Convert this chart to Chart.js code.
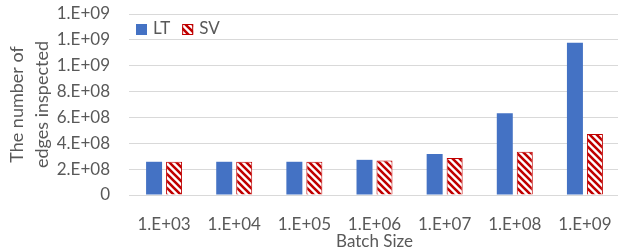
<!DOCTYPE html>
<html>
<head>
<meta charset="utf-8">
<script src="https://cdn.jsdelivr.net/npm/chart.js@4"></script>
<style>
    html, body { margin: 0; padding: 0; background: #fff; overflow: hidden; }
    #chart { display: block; }
</style>
</head>
<body>
<canvas id="chart" width="620" height="248"></canvas>
<script>
const batchSizes = ["1.E+03", "1.E+04", "1.E+05", "1.E+06", "1.E+07", "1.E+08", "1.E+09"];
const ltEdges = [2.57e8, 2.57e8, 2.57e8, 2.72e8, 3.17e8, 6.33e8, 1.178e9];
const svEdges = [2.57e8, 2.57e8, 2.57e8, 2.67e8, 2.86e8, 3.35e8, 4.72e8];
const yTickLabels = ["0", "2.E+08", "4.E+08", "6.E+08", "8.E+08", "1.E+09", "1.E+09", "1.E+09"];

const textColor = "#595959";
const fontFamily = "Lato, 'Open Sans', sans-serif";

// red "\" hatch like the Excel pattern fill
function hatchPattern() {
    const s = 7;
    const tile = document.createElement("canvas");
    tile.width = s;
    tile.height = s;
    const c = tile.getContext("2d");
    c.fillStyle = "#ffffff";
    c.fillRect(0, 0, s, s);
    c.strokeStyle = "#C00000";
    c.lineWidth = 2.6;
    c.beginPath();
    c.moveTo(-2, -2); c.lineTo(s + 2, s + 2);
    c.moveTo(s - 2, -2); c.lineTo(s + 2, 2);
    c.moveTo(-2, s - 2); c.lineTo(2, s + 2);
    c.stroke();
    return c.createPattern(tile, "repeat");
}

const ctx = document.getElementById("chart").getContext("2d");

// legend sits inside the plot, top left
const insideLegend = {
    id: "insideLegend",
    afterDraw(chart) {
        const c = chart.ctx;
        const area = chart.chartArea;
        let x = area.left + 7;
        const y = area.top + 15;
        c.save();
        c.font = "17px " + fontFamily;
        c.textBaseline = "middle";
        c.textAlign = "left";
        chart.data.datasets.forEach(ds => {
            c.fillStyle = ds.backgroundColor;
            c.fillRect(x, y - 5, 11, 11);
            if (ds.borderWidth) {
                c.strokeStyle = ds.borderColor;
                c.lineWidth = 1;
                c.strokeRect(x + 0.5, y - 4.5, 10, 10);
            }
            x += 17;
            c.fillStyle = textColor;
            c.fillText(ds.label, x, y);
            x += c.measureText(ds.label).width + 12;
        });
        c.restore();
    }
};

new Chart(ctx, {
    type: "bar",
    data: {
        labels: batchSizes,
        datasets: [
            {
                label: "LT",
                data: ltEdges,
                backgroundColor: "#4472C4",
                borderWidth: 0,
                categoryPercentage: 0.57,
                barPercentage: 0.8
            },
            {
                label: "SV",
                data: svEdges,
                backgroundColor: hatchPattern(),
                borderColor: "#C00000",
                borderWidth: 1,
                categoryPercentage: 0.57,
                barPercentage: 0.8
            }
        ]
    },
    options: {
        responsive: false,
        animation: false,
        devicePixelRatio: 1,
        layout: { padding: { top: 14, left: 0, right: 0, bottom: 0 } },
        plugins: {
            legend: { display: false },
            tooltip: { enabled: false }
        },
        scales: {
            x: {
                grid: { display: false, drawTicks: false },
                border: { display: false },
                ticks: {
                    color: textColor,
                    font: { family: fontFamily, size: 17 },
                    padding: 19,
                    maxRotation: 0
                },
                title: {
                    display: true,
                    text: "Batch Size",
                    color: textColor,
                    font: { family: fontFamily, size: 17, lineHeight: "12px" },
                    padding: { top: 0, bottom: 0 }
                },
                afterFit(scale) {
                    scale.height = 53;
                    scale.paddingLeft = 0;
                    scale.paddingRight = 0;
                }
            },
            y: {
                min: 0,
                max: 1.4e9,
                grid: { color: "#D9D9D9", lineWidth: 1, drawTicks: false },
                border: { display: false },
                ticks: {
                    stepSize: 2e8,
                    color: textColor,
                    font: { family: fontFamily, size: 17 },
                    padding: 19,
                    callback: (value, index) => yTickLabels[index]
                },
                title: {
                    display: true,
                    text: ["The number of", "edges inspected"],
                    color: textColor,
                    font: { family: fontFamily, size: 18, lineHeight: "25px" },
                    padding: { top: 5, bottom: 0 }
                },
                afterFit(scale) {
                    scale.width = 129;
                    scale.paddingTop = 0;
                    scale.paddingBottom = 0;
                }
            }
        }
    },
    plugins: [insideLegend]
});
</script>
</body>
</html>
